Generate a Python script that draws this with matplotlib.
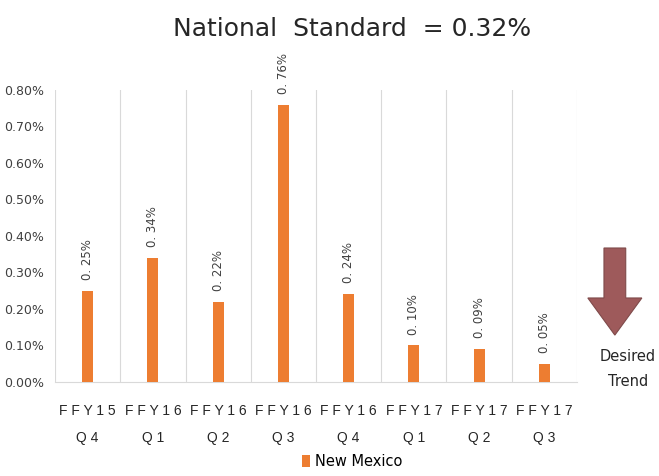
import matplotlib.pyplot as plt
import matplotlib.patches as mpatches
from matplotlib.ticker import FuncFormatter

# dados
quarters = ["FFY15\nQ4", "FFY16\nQ1", "FFY16\nQ2", "FFY16\nQ3",
            "FFY16\nQ4", "FFY17\nQ1", "FFY17\nQ2", "FFY17\nQ3"]
new_mexico = [0.25, 0.34, 0.22, 0.76, 0.24, 0.10, 0.09, 0.05]
yticks = [0.0, 0.1, 0.2, 0.3, 0.4, 0.5, 0.6, 0.7, 0.8]
title = "National  Standard  = 0.32%"

cor = "#ED7D31"
grade = "#D9D9D9"

fig = plt.figure(figsize=(6.59, 4.76), dpi=100)
ax = fig.add_axes([0.0835, 0.1975, 0.792, 0.6135])

x = list(range(len(quarters)))
ax.bar(x, new_mexico, width=0.17, color=cor, label="New Mexico", zorder=3)

for xi, v in zip(x, new_mexico):
    ax.text(xi, v + 0.03, f"{v:.2f}%".replace("0.", "0. ", 1), rotation=90,
            ha="center", va="bottom", fontsize=8.5, color="#404040")

ax.set_xlim(-0.5, len(quarters) - 0.5)
ax.set_ylim(0, 0.8)
ax.set_yticks(yticks)
ax.yaxis.set_major_formatter(FuncFormatter(lambda v, p: f"{v:.2f}%"))
ax.tick_params(axis="y", labelsize=9, length=0, pad=8, colors="#404040")
ax.tick_params(axis="x", length=0, pad=15.5)

# rótulos com letras espaçadas
labels = [" ".join(q.split("\n")[0]) + "\n" + " ".join(q.split("\n")[1]) for q in quarters]
ax.set_xticks(x)
ax.set_xticklabels(labels, fontsize=10, color="#262626", linespacing=2.2,
                   family="Liberation Sans")

# linhas verticais entre categorias
for b in range(len(quarters) + 1):
    ax.axvline(b - 0.5, color=grade, lw=0.8, zorder=1)
for s in ["top", "right", "left"]:
    ax.spines[s].set_visible(False)
ax.spines["bottom"].set_color(grade)

fig.text(0.534, 0.94, title, ha="center", va="center", fontsize=18,
         color="#262626")

# seta de tendência
seta = mpatches.FancyArrow(0.933, 0.479, 0, -0.183, width=0.033,
                           head_width=0.082, head_length=0.078,
                           length_includes_head=True, transform=fig.transFigure,
                           facecolor="#9E5A5B", edgecolor="#7F4A4A", lw=0.8)
fig.patches.append(seta)
fig.text(0.953, 0.225, "Desired\nTrend", ha="center", va="center", fontsize=10.5,
         color="#262626", linespacing=1.8)

fig.legend(loc="lower center", bbox_to_anchor=(0.534, -0.012), frameon=False,
           fontsize=10.5, handlelength=0.6, handleheight=0.9, handletextpad=0.3)

fig.savefig("out.png", dpi=100)
